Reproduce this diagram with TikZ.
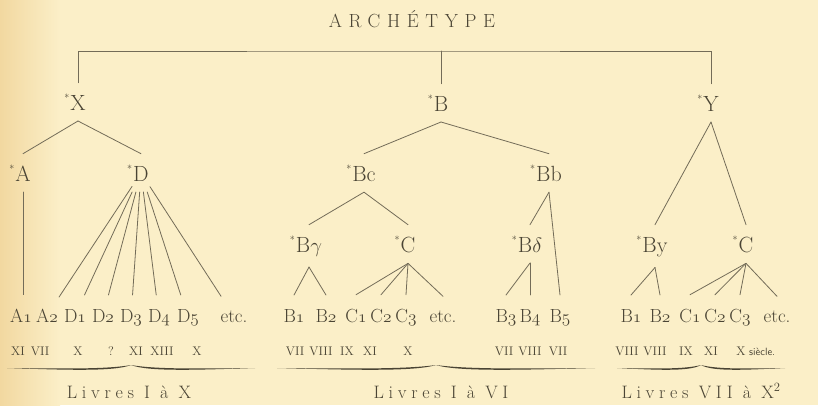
\documentclass[tikz,border=0pt]{standalone}
\usepackage{fontspec}
\usepackage{tikz}
\definecolor{paper}{HTML}{FBEFC8}
\definecolor{paperedge}{HTML}{F2D8A0}
\definecolor{ink}{HTML}{4A4434}
\definecolor{rule}{HTML}{736C58}
\newfontfamily\spaced{Latin Modern Roman}[LetterSpace=26]
\newfontfamily\wider{Latin Modern Roman}[LetterSpace=35]
\newcommand{\osn}[1]{{\fontencoding{OML}\fontfamily{cmm}\fontseries{m}\fontshape{it}\selectfont #1}}
\newcommand{\msstar}{\llap{\raisebox{0.4em}{\fontsize{10}{10}\selectfont *}\hspace{1pt}}}
\tikzset{
  link/.style={draw=rule, line width=0.8pt, line cap=round},
  ms/.style={text=ink, font=\fontsize{22}{24}\selectfont, anchor=base, inner sep=1pt, outer ysep=10pt},
  leaf/.style={text=ink, font=\fontsize{19}{21}\selectfont, anchor=base, inner sep=1pt, outer ysep=13pt},
  cent/.style={text=ink, font=\fontsize{12.5}{14}\selectfont, anchor=base, inner sep=1pt},
  book/.style={text=ink, font=\spaced\fontsize{18}{20}\selectfont, anchor=base},
  pics/halfbrace/.style={code={
    \fill[ink] (0,0) .. controls (0.45*#1,0.6) and (0.8*#1,1.4) .. (#1,-3)
      .. controls (0.86*#1,3.9) and (0.45*#1,1.8) .. (0,0) -- cycle;}},
}

\begin{document}
\begin{tikzpicture}[x=1pt, y=-1pt]
  \useasboundingbox (0,0) rectangle (818,405);
  \fill[paper] (0,0) rectangle (818,405);
  \shade[left color=paperedge, right color=paper] (0,0) rectangle (60,405);

  \node[text=ink, font=\wider\fontsize{19}{21}\selectfont, anchor=base] (arch) at (412,27) {ARCHÉTYPE};
  \coordinate (top) at (412,51);

  \node[ms] (X) at (78,110) {\msstar X};
  \node[ms] (B) at (441,111) {\msstar B};
  \node[ms] (Y) at (711,111) {\msstar Y};
  \draw[link] (X.north) |- (top) -| (Y.north);
  \draw[link] (B.north) -- (B.north |- top);

  \node[ms] (A) at (23,181) {\msstar A};
  \node[ms] (D) at (141,181) {\msstar D};
  \node[ms] (Bc) at (364,181) {\msstar Bc};
  \node[ms] (Bb) at (549,181) {\msstar Bb};

  \node[ms] (Bg) at (309,252) {\msstar B$\gamma$};
  \node[ms] (Cb) at (408,252) {\msstar C};
  \node[ms] (Bd) at (530,252) {\msstar B$\delta$};
  \node[ms] (By) at (655,252) {\msstar By};
  \node[ms] (Cy) at (746,252) {\msstar C};

  \node[leaf] (a1) at (21,322) {A\osn{1}};
  \node[leaf] (a2) at (47,322) {A\osn{2}};
  \node[leaf] (d1) at (75,322) {D\osn{1}};
  \node[leaf] (d2) at (103,322) {D\osn{2}};
  \node[leaf] (d3) at (131,322) {D\osn{3}};
  \node[leaf] (d4) at (159,322) {D\osn{4}};
  \node[leaf] (d5) at (188,322) {D\osn{5}};
  \node[leaf] (etcx) at (234,322) {etc.};

  \node[leaf] (b1) at (294,322) {B\osn{1}};
  \node[leaf] (b2) at (326,322) {B\osn{2}};
  \node[leaf] (c1) at (356,322) {C\osn{1}};
  \node[leaf] (c2) at (381,322) {C\osn{2}};
  \node[leaf] (c3) at (406,322) {C\osn{3}};
  \node[leaf] (etcb) at (443,322) {etc.};
  \node[leaf] (b3) at (506,322) {B\osn{3}};
  \node[leaf] (b4) at (530,322) {B\osn{4}};
  \node[leaf] (b5) at (560,322) {B\osn{5}};

  \node[leaf] (yb1) at (631,322) {B\osn{1}};
  \node[leaf] (yb2) at (660,322) {B\osn{2}};
  \node[leaf] (yc1) at (690,322) {C\osn{1}};
  \node[leaf] (yc2) at (715,322) {C\osn{2}};
  \node[leaf] (yc3) at (740,322) {C\osn{3}};
  \node[leaf] (etcy) at (777,322) {etc.};

  \draw[link] (X.south) -- (A.north);
  \draw[link] (X.south) -- (D.north);
  \draw[link] (B.south) -- (Bc.north);
  \draw[link] (B.south) -- (Bb.north);
  \draw[link] (Y.south) -- (By.north);
  \draw[link] (Y.south) -- (Cy.north);
  \draw[link] (Bc.south) -- (Bg.north);
  \draw[link] (Bc.south) -- (Cb.north);
  \draw[link] (Bb.south) -- (Bd.north);
  \draw[link] (Bb.south) -- (b5.north);

  \draw[link] (A.south) -- (A.south |- a1.north);
  \draw[link] (D) -- (a2);
  \draw[link] (D) -- (d1);
  \draw[link] (D) -- (d2);
  \draw[link] (D) -- (d3);
  \draw[link] (D) -- (d4);
  \draw[link] (D) -- (d5);
  \draw[link] (D) -- (etcx);
  \draw[link] (Bg.south) -- (b1.north);
  \draw[link] (Bg.south) -- (b2.north);
  \draw[link] (Cb.south) -- (c1.north);
  \draw[link] (Cb.south) -- (c2.north);
  \draw[link] (Cb.south) -- (c3.north);
  \draw[link] (Cb.south) -- (etcb.north);
  \draw[link] (Bd.south) -- (b3.north);
  \draw[link] (Bd.south) -- (b4.north);
  \draw[link] (By.south) -- (yb1.north);
  \draw[link] (By.south) -- (yb2.north);
  \draw[link] (Cy.south) -- (yc1.north);
  \draw[link] (Cy.south) -- (yc2.north);
  \draw[link] (Cy.south) -- (yc3.north);
  \draw[link] (Cy.south) -- (etcy.north);

  \node[cent] (ra1) at (18,355) {XI};
  \node[cent] (ra2) at (40,355) {VII};
  \node[cent] (rd1) at (78,355) {X};
  \node[cent] (rd2) at (111,355) {?};
  \node[cent] (rd3) at (136,355) {XI};
  \node[cent] (rd4) at (162,355) {XIII};
  \node[cent] (rd5) at (197,355) {X};
  \node[cent] (rb1) at (295,355) {VII};
  \node[cent] (rb2) at (321,355) {VIII};
  \node[cent] (rc1) at (347,355) {IX};
  \node[cent] (rc2) at (370,355) {XI};
  \node[cent] (rc3) at (408,355) {X};
  \node[cent] (rb3) at (504,355) {VII};
  \node[cent] (rb4) at (530,355) {VIII};
  \node[cent] (rb5) at (558,355) {VII};
  \node[cent] (ryb1) at (627,355) {VIII};
  \node[cent] (ryb2) at (655,355) {VIII};
  \node[cent] (ryc1) at (686,355) {IX};
  \node[cent] (ryc2) at (711,355) {XI};
  \node[cent] (ryc3) at (741,355) {X};
  \node[cent, anchor=base west, font=\sffamily\fontsize{10.5}{12}\selectfont] (sie) at (748,355) {siècle.};

  \coordinate (lx0) at (7,368);
  \coordinate (lx1) at (255,368);
  \coordinate (lb0) at (277,368);
  \coordinate (lb1) at (595,368);
  \coordinate (ly0) at (617,368);
  \coordinate (ly1) at (785,368);
  \pic at (lx0) {halfbrace=124};
  \pic[xscale=-1] at (lx1) {halfbrace=124};
  \pic at (lb0) {halfbrace=159};
  \pic[xscale=-1] at (lb1) {halfbrace=159};
  \pic at (ly0) {halfbrace=84};
  \pic[xscale=-1] at (ly1) {halfbrace=84};

  \node[book] (livx) at (129,398) {Livres I à X};
  \node[book] (livb) at (441,398) {Livres I à VI};
  \node[book] (livy) at (701,398) {Livres VII à X\textsuperscript{2}};
\end{tikzpicture}
\end{document}
